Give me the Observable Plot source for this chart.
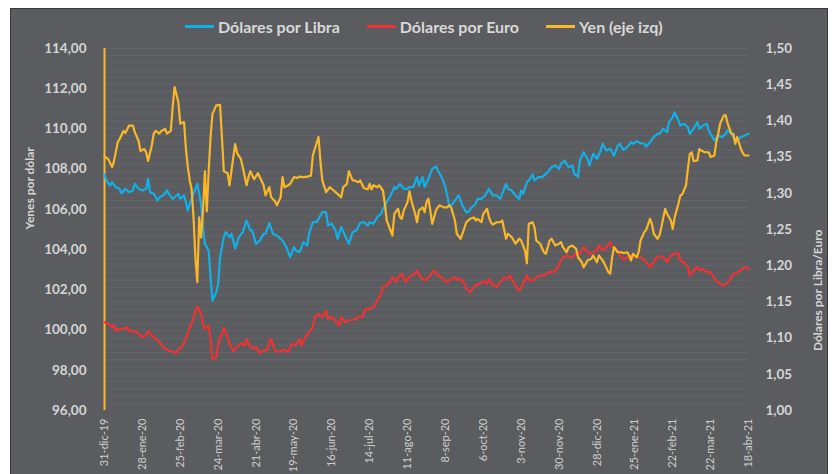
<!DOCTYPE html>
<html><head><meta charset="utf-8">
<script src="https://cdn.jsdelivr.net/npm/d3@7"></script>
<script src="https://cdn.jsdelivr.net/npm/@observablehq/plot@0.6"></script>
<style>
body{margin:0;background:#fff;}
#wrap{position:relative;width:838px;height:474px;overflow:hidden;font-family:Lato,"Open Sans",sans-serif;}
#bg{position:absolute;left:10px;top:8px;width:818px;height:470px;background:#5a5c5f;border:1px solid #3a3a3a;box-sizing:border-box;}
#legend{position:absolute;top:17px;left:185px;display:flex;gap:27px;align-items:center;color:#d9d9d9;font-weight:bold;font-size:16px;white-space:nowrap;}
#legend .it{display:flex;align-items:center;gap:4px;}
#legend .sw{width:29px;height:3px;display:inline-block;}
#chart{position:absolute;left:0;top:0;}
</style></head>
<body>
<div id="wrap">
<div id="bg"></div>
<div id="chart"></div>
<div id="legend"></div>
</div>
<script>
const seriesNames = ["Dólares por Libra","Dólares por Euro","Yen (eje izq)"];
const seriesColors = ["#12b0e8","#f23232","#fbb726"];
const xLabels = ["31-dic-19","28-ene-20","25-feb-20","24-mar-20","21-abr-20","19-may-20","16-jun-20","14-jul-20","11-ago-20","8-sep-20","6-oct-20","3-nov-20","30-nov-20","28-dic-20","25-ene-21","22-feb-21","22-mar-21","18-abr-21"];
const xTickDays = [0,20,40,60,80,100,120,140,160,180,200,220,240,260,280,300,320,340];
const leftTicks = [96,98,100,102,104,106,108,110,112,114];
const rightTicks = [1.00,1.05,1.10,1.15,1.20,1.25,1.30,1.35,1.40,1.45,1.50];
const yenSpike = [96,114];

const yenDay = [0,2,4,5,7,8,10,11,13,15,16,18,19,21,22,23,25,26,27,29,30,32,33,35,36,37,39,40,42,43,44,45,46,47,48,49,50,51,52,53,54,55,56,57,59,61,62,63,65,66,68,69,70,72,73,75,76,77,79,81,82,84,85,87,88,90,91,93,94,95,97,98,100,102,103,105,107,109,110,111,113,114,115,117,119,121,122,125,126,128,129,131,132,134,135,137,139,140,141,142,144,145,147,148,149,151,152,153,155,156,157,158,160,161,162,164,165,166,168,169,170,171,172,173,175,176,177,179,181,182,183,185,186,188,189,191,193,195,196,197,199,200,202,203,204,205,207,209,210,212,213,215,217,219,220,222,223,224,226,227,228,230,232,233,235,236,238,240,241,242,244,245,247,249,250,252,253,255,257,258,260,261,263,264,266,267,268,269,271,273,274,276,277,278,279,281,282,283,285,286,288,289,290,292,293,294,296,297,299,300,301,303,304,305,307,308,309,310,311,313,314,315,317,319,320,322,323,324,325,327,328,329,331,332,333,334,336,337,338,340];
const yenVal = [108.63,108.5,108.1,108.4,109.34,109.5,109.9,109.8,110.17,110.17,109.84,109.4,108.9,109.0,108.84,108.4,109.2,109.76,109.9,109.77,109.9,110.0,109.77,109.9,111.1,112.08,111.33,110.26,110.34,109.0,108.1,107.44,107.0,105.6,103.6,102.38,105.6,104.6,105.9,107.9,105.9,107.9,109.6,110.75,111.17,111.2,109.6,107.9,107.8,107.2,108.6,109.25,108.8,108.5,108.1,107.2,107.6,107.9,107.5,107.8,107.6,107.2,106.7,107.1,106.6,106.4,106.2,106.6,107.6,107.1,107.2,107.27,107.6,107.57,107.63,107.6,107.63,107.68,108.68,109.0,109.6,108.4,107.44,106.86,107.1,106.94,106.86,106.6,107.1,107.27,107.9,107.44,107.44,107.35,107.44,107.05,107.0,107.27,107.0,107.2,107.1,107.2,106.94,106.28,105.45,104.95,104.7,105.78,106.03,105.6,105.53,105.95,106.36,106.9,106.44,105.78,105.36,105.95,106.1,105.86,106.36,106.53,105.95,105.28,105.95,106.1,106.2,106.1,106.1,106.2,106.1,105.45,104.79,104.54,104.79,105.36,105.53,105.6,105.45,105.53,105.36,105.78,106.03,105.6,105.36,105.24,105.36,105.36,105.45,104.54,104.79,104.62,104.29,104.54,104.45,103.95,103.32,105.28,105.36,105.11,104.45,104.29,103.87,103.79,104.45,104.54,104.2,104.29,104.37,104.12,103.87,104.12,104.2,104.04,103.62,103.37,103.12,103.46,103.54,103.71,103.37,103.71,103.46,103.29,102.88,102.8,103.62,104.12,103.87,103.87,103.82,103.87,103.71,103.46,103.79,103.62,103.87,104.45,104.87,104.98,105.53,105.28,104.79,104.54,104.7,105.11,106.03,105.78,105.45,105.03,105.6,106.28,106.69,106.74,107.19,108.02,108.76,108.84,108.4,108.43,109.0,108.93,108.84,108.84,108.6,108.68,109.34,109.76,110.26,110.67,110.67,110.26,109.76,109.76,109.26,109.6,109.0,108.8,108.68,108.68];

const libraDay = [0,1,3,4,6,8,9,11,13,15,16,18,20,22,23,24,26,28,29,31,33,34,36,37,39,40,42,43,44,45,47,48,49,51,52,53,55,56,57,59,60,61,63,64,66,67,69,71,73,75,77,78,80,82,84,85,87,89,91,92,94,96,98,100,101,103,105,107,108,110,112,114,115,117,118,120,122,123,125,127,129,131,133,135,137,139,140,142,144,146,147,149,151,153,154,156,158,160,161,163,165,166,168,169,171,173,175,176,178,180,182,183,185,187,189,191,192,194,196,197,199,201,203,205,207,209,210,212,213,215,217,219,220,221,223,224,226,227,229,231,233,234,236,238,240,241,243,245,247,248,250,251,253,255,256,258,260,262,263,265,267,269,271,272,274,276,278,279,281,283,285,286,288,290,292,293,295,297,298,300,301,303,304,306,308,309,311,313,314,316,318,319,321,322,324,326,328,329,331,333,335,336,338,340];
const libraVal = [1.326,1.3177,1.3108,1.3153,1.3085,1.3062,1.3001,1.3062,1.3016,1.3039,1.3131,1.3062,1.3039,1.3062,1.32,1.3016,1.2993,1.29,1.2946,1.297,1.3039,1.2993,1.2924,1.2946,1.2993,1.2924,1.297,1.2877,1.2762,1.2855,1.2993,1.3062,1.3131,1.2855,1.2532,1.2302,1.221,1.1841,1.1519,1.1634,1.175,1.2117,1.2394,1.2463,1.2394,1.2441,1.224,1.2394,1.2463,1.2624,1.2486,1.2486,1.2302,1.2348,1.2441,1.2441,1.2587,1.2441,1.2417,1.2394,1.2348,1.2256,1.2117,1.2256,1.221,1.2187,1.2325,1.2279,1.2441,1.2601,1.2601,1.2693,1.2739,1.2739,1.2555,1.2579,1.2486,1.2371,1.2532,1.2417,1.2302,1.2463,1.2486,1.259,1.2601,1.2555,1.2601,1.2579,1.267,1.2717,1.2786,1.2877,1.297,1.3085,1.3062,1.3131,1.3062,1.3062,1.3085,1.3085,1.3223,1.3108,1.3223,1.3085,1.32,1.3338,1.337,1.3315,1.3223,1.3085,1.2831,1.2831,1.29,1.297,1.2831,1.2739,1.2739,1.2808,1.2855,1.2924,1.2924,1.297,1.3062,1.297,1.297,1.2924,1.2993,1.3131,1.3062,1.3039,1.297,1.2924,1.3039,1.2993,1.3153,1.3177,1.326,1.3177,1.3223,1.3223,1.3269,1.3292,1.336,1.3384,1.3338,1.3407,1.3453,1.336,1.3384,1.3269,1.3232,1.3453,1.3568,1.3477,1.3384,1.3546,1.3477,1.3591,1.3684,1.3591,1.3615,1.3522,1.366,1.3684,1.36,1.3637,1.3706,1.3684,1.372,1.3692,1.3684,1.3646,1.3706,1.3775,1.3822,1.3822,1.3891,1.3844,1.3982,1.4051,1.412,1.4006,1.3936,1.396,1.3913,1.3822,1.3891,1.3982,1.3891,1.3936,1.396,1.3867,1.3775,1.3729,1.3798,1.3775,1.3822,1.3867,1.3822,1.3729,1.3753,1.3775,1.3798,1.3822];

const euroDay = [0,2,4,5,6,8,10,12,13,15,17,19,20,22,23,25,27,29,30,32,34,36,38,39,41,43,45,46,47,49,51,52,53,55,56,57,59,60,62,63,65,66,68,70,72,74,75,77,79,80,82,84,86,87,88,90,92,94,96,97,99,101,103,104,106,108,110,111,113,115,117,118,120,122,124,125,127,129,131,133,134,136,138,140,142,144,146,147,149,151,152,154,155,157,159,160,162,164,165,167,169,171,172,174,176,178,179,181,183,185,186,188,190,191,193,195,196,198,200,202,203,205,207,209,211,213,214,216,218,219,221,223,224,226,228,230,232,233,235,237,239,240,242,244,246,247,249,251,253,254,256,258,260,261,263,265,267,268,270,272,274,276,278,279,281,283,285,286,288,290,292,293,295,297,299,301,303,304,306,308,309,311,313,314,316,318,320,322,324,325,327,329,330,332,334,336,337,339,340];
const euroVal = [1.122,1.1197,1.1151,1.1174,1.1105,1.1128,1.1128,1.1151,1.1095,1.1095,1.1082,1.1036,1.1013,1.1036,1.1095,1.1036,1.099,1.0944,1.0912,1.0852,1.0829,1.0815,1.0792,1.0852,1.0875,1.099,1.1151,1.1197,1.1289,1.1436,1.1336,1.1197,1.1128,1.1174,1.0967,1.0714,1.0737,1.0921,1.106,1.1142,1.1013,1.0921,1.082,1.0875,1.093,1.0898,1.099,1.0875,1.0852,1.0875,1.0792,1.0829,1.0838,1.0944,1.099,1.0829,1.0806,1.0838,1.0829,1.0806,1.0921,1.0898,1.099,1.0898,1.1013,1.1082,1.1151,1.1289,1.1336,1.1289,1.1372,1.1266,1.1289,1.1243,1.1174,1.1289,1.122,1.1243,1.1253,1.1266,1.1298,1.1289,1.1405,1.1405,1.1427,1.1519,1.1612,1.1703,1.1727,1.1796,1.1841,1.1772,1.1841,1.1888,1.1772,1.1819,1.1865,1.1888,1.1934,1.1841,1.1796,1.1833,1.1865,1.1934,1.1865,1.1841,1.1805,1.1772,1.1819,1.1841,1.1805,1.1819,1.175,1.1681,1.1634,1.1703,1.1727,1.175,1.1786,1.175,1.1819,1.1738,1.1703,1.1772,1.1841,1.1819,1.1865,1.1772,1.1681,1.1657,1.175,1.1865,1.1796,1.1796,1.1841,1.1865,1.1865,1.1878,1.191,1.191,1.1957,1.2026,1.2117,1.214,1.2117,1.2117,1.2173,1.2164,1.2256,1.2233,1.2164,1.2187,1.221,1.2279,1.221,1.2256,1.2325,1.2256,1.2233,1.215,1.208,1.2117,1.214,1.214,1.2117,1.2117,1.2072,1.2049,1.198,1.2049,1.2127,1.2127,1.2117,1.2049,1.214,1.2164,1.2173,1.2072,1.2049,1.198,1.1865,1.1934,1.198,1.1934,1.1957,1.191,1.191,1.1819,1.1772,1.175,1.1727,1.1772,1.1796,1.1888,1.191,1.1934,1.1971,1.198,1.1957];

// right axis (1.00–1.50) mapped onto left axis (96–114)
const toLeft = v => 96 + (v - 1) * 36;
const fromLeft = v => (v - 96) / 36 + 1;
const fmt = v => v.toFixed(2).replace(".", ",");

const yen = yenDay.map((d, i) => ({day: d, v: yenVal[i]}));
const libra = libraDay.map((d, i) => ({day: d, v: toLeft(libraVal[i])}));
const euro = euroDay.map((d, i) => ({day: d, v: toLeft(euroVal[i])}));
const gridVals = d3.range(1, 51).map(k => toLeft(1 + k / 100));

const plot = Plot.plot({
  width: 838, height: 474,
  marginLeft: 104, marginRight: 90, marginTop: 48, marginBottom: 64,
  style: {background: "transparent", color: "#d6d6d6", fontFamily: "Lato, 'Open Sans', sans-serif"},
  x: {domain: [0, 340]},
  y: {domain: [96, 114]},
  marks: [
    Plot.ruleY(gridVals, {stroke: "#636568", strokeWidth: 1}),
    Plot.axisY({anchor: "left", ticks: leftTicks, tickSize: 0, tickPadding: 18, tickFormat: fmt, fontSize: 13.5, fontWeight: "bold", label: null}),
    Plot.axisY({anchor: "right", ticks: rightTicks.map(toLeft), tickSize: 0, tickPadding: 17, tickFormat: v => fmt(fromLeft(v)), fontSize: 13.5, fontWeight: "bold", label: null}),
    Plot.axisX({ticks: xTickDays, tickFormat: d => xLabels[xTickDays.indexOf(d)], tickRotate: -90, tickSize: 0, tickPadding: 8, fontSize: 11, fill: "#cfcfcf", label: null}),
    Plot.text(["Yenes por dólar"], {frameAnchor: "left", dx: -74, rotate: -90, fontSize: 12, fontWeight: "bold", fill: "#d6d6d6"}),
    Plot.text(["Dólares por Libra/Euro"], {frameAnchor: "right", dx: 70, rotate: -90, fontSize: 12, fontWeight: "bold", fill: "#d6d6d6"}),
    Plot.ruleX([0], {y1: yenSpike[0], y2: yenSpike[1], stroke: seriesColors[2], strokeWidth: 2}),
    Plot.line(euro, {x: "day", y: "v", stroke: seriesColors[1], strokeWidth: 2.2}),
    Plot.line(libra, {x: "day", y: "v", stroke: seriesColors[0], strokeWidth: 2.2}),
    Plot.line(yen, {x: "day", y: "v", stroke: seriesColors[2], strokeWidth: 2.2})
  ]
});
document.getElementById("chart").appendChild(plot);

const lg = document.getElementById("legend");
seriesNames.forEach((n, i) => {
  const it = document.createElement("span");
  it.className = "it";
  const sw = document.createElement("span");
  sw.className = "sw";
  sw.style.background = seriesColors[i];
  const t = document.createElement("span");
  t.textContent = n;
  it.appendChild(sw); it.appendChild(t);
  lg.appendChild(it);
});
</script>
</body></html>
